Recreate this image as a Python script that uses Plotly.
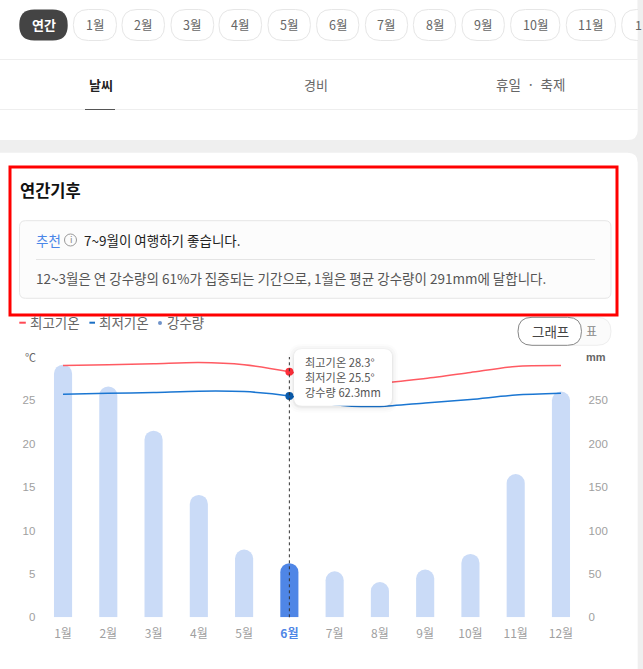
import plotly.graph_objects as go

W, H = 643, 669
KR = "Noto Sans CJK KR"

months = ["1월", "2월", "3월", "4월", "5월", "6월", "7월", "8월", "9월", "10월", "11월", "12월"]
high_temp = [29.0, 29.1, 29.2, 29.35, 29.1, 28.3, 27.2, 27.0, 27.5, 28.2, 28.9, 29.0]
low_temp = [25.7, 25.8, 25.9, 26.05, 26.0, 25.5, 24.5, 24.3, 24.7, 25.1, 25.6, 25.8]
rain = [291, 266, 215, 141, 78, 62.3, 53, 40.6, 55, 73, 165, 260]
selected = "6월"

temp_ticks = [0, 5, 10, 15, 20, 25]
rain_ticks = [0, 50, 100, 150, 200, 250]

pill_labels = ["1월", "2월", "3월", "4월", "5월", "6월", "7월", "8월", "9월", "10월", "11월"]
pill_edges = [(73.4, 116.5), (122, 164.5), (171, 213.7), (219, 261.6), (268, 310.4), (316.6, 358.8),
              (365.4, 407.6), (413.4, 455.6), (462, 504.4), (510.6, 559.8), (566.3, 615.5)]

tooltip_lines = ["최고기온 28.3°", "최저기온 25.5°", "강수량 62.3mm"]


# pixel coords -> paper coords
def px(x):
    return x / W


def py(y):
    return 1 - y / H


def rrect(x0, y0, x1, y1, r):
    pts = [("M", x0 + r, y0), ("L", x1 - r, y0), ("Q", x1, y0, x1, y0 + r), ("L", x1, y1 - r),
           ("Q", x1, y1, x1 - r, y1), ("L", x0 + r, y1), ("Q", x0, y1, x0, y1 - r), ("L", x0, y0 + r),
           ("Q", x0, y0, x0 + r, y0)]
    out = []
    for p in pts:
        nums = p[1:]
        coords = " ".join(f"{px(nums[i]):.5f},{py(nums[i + 1]):.5f}" for i in range(0, len(nums), 2))
        out.append(p[0] + " " + coords)
    return " ".join(out) + " Z"


shapes = []
annotations = []


def box(x0, y0, x1, y1, r, fill, line=None, width=1, layer="below", opacity=1):
    shapes.append(dict(type="path", path=rrect(x0, y0, x1, y1, r), xref="paper", yref="paper",
                       fillcolor=fill, line=dict(color=line or fill, width=width if line else 0),
                       layer=layer, opacity=opacity))


def hline(x0, x1, y, color, width=1, layer="below"):
    shapes.append(dict(type="line", xref="paper", yref="paper", x0=px(x0), x1=px(x1), y0=py(y), y1=py(y),
                       line=dict(color=color, width=width), layer=layer))


def label(x, y, text, size=12, color="#555555", anchor="left", family=KR):
    annotations.append(dict(x=px(x), y=py(y), xref="paper", yref="paper", text=text, showarrow=False,
                            xanchor=anchor, yanchor="middle", align=anchor, borderpad=0, borderwidth=0,
                            font=dict(size=size, color=color, family=family)))


# cards
box(-20, -20, 637.7, 140, 10, "#ffffff")
box(-20, 152.7, 637.7, 720, 10, "#ffffff")

# month pills
box(19.3, 9.5, 67.7, 40.5, 15, "#444444")
label(43.5, 25, "<b>연간</b>", 13, "#ffffff", "center")
for name, (a, b) in zip(pill_labels, pill_edges):
    box(a, 9.5, b, 40.5, 15, "#ffffff", "#e6e6e6")
    label((a + b) / 2, 25, name, 12.5, "#666666", "center")
box(621.7, 9.5, 660, 40.5, 15, "#ffffff", "#e6e6e6")
shapes.append(dict(type="rect", xref="paper", yref="paper", x0=px(637.7), x1=px(643), y0=py(0), y1=py(60),
                   fillcolor="#efefef", line=dict(width=0), layer="below"))
label(634.5, 25, "1", 12.5, "#666666")

# tabs
hline(0, 637.7, 59.5, "#eeeeee")
hline(0, 637.7, 109.5, "#eeeeee")
hline(85, 115, 109.5, "#555555")
label(100.5, 84, "<b>날씨</b>", 13, "#222222", "center")
label(316, 84, "경비", 13, "#666666", "center")
label(530.5, 84, "휴일  ·  축제", 13.5, "#666666", "center")

# summary block
label(20, 190, "<b>연간기후</b>", 16.5, "#111111")
box(19.5, 220.7, 611, 298.3, 6, "#fcfcfc", "#e6e6e6")
label(36, 240, "추천", 13.5, "#4a86e8")
shapes.append(dict(type="circle", xref="paper", yref="paper", x0=px(64.5), x1=px(76.5), y0=py(234), y1=py(246),
                   line=dict(color="#999999", width=1), fillcolor="#fcfcfc", layer="below"))
label(70.5, 240, "i", 9, "#888888", "center")
label(84, 240, "7~9월이 여행하기 좋습니다.", 13.5, "#222222")
hline(36, 595, 259.5, "#e4e4e4")
label(36, 278, "12~3월은 연 강수량의 61%가 집중되는 기간으로, 1월은 평균 강수량이 291mm에 달합니다.", 13.5, "#555555")

# legend row + toggle
hline(19.3, 25.8, 322.7, "#ff4a55", 2)
label(30, 322, "최고기온", 13.5, "#666666")
hline(89.4, 95, 322.7, "#1a6fc4", 2)
label(99, 322, "최저기온", 13.5, "#666666")
shapes.append(dict(type="circle", xref="paper", yref="paper", x0=px(158), x1=px(162), y0=py(321), y1=py(325),
                   line=dict(width=0), fillcolor="#6f93c9", layer="below"))
label(167, 322, "강수량", 13.5, "#666666")
box(518, 317.3, 611, 345.3, 14, "#fbfbfb", "#eeeeee")
box(518, 317.3, 581.5, 345.3, 14, "#ffffff", "#888888")
label(550, 331, "그래프", 13.5, "#444444", "center")
label(591, 331, "표", 12, "#888888", "center")

# axis units
label(30, 357, "℃", 11, "#666666", "center")
label(606, 357, "<b>mm</b>", 11, "#666666", "right", "Liberation Sans")

# red frame
shapes.append(dict(type="rect", xref="paper", yref="paper", x0=px(10), x1=px(617), y0=py(167), y1=py(315),
                   line=dict(color="#ff0000", width=3), fillcolor="rgba(0,0,0,0)", layer="above"))

# crosshair
shapes.append(dict(type="line", xref="x", yref="paper", x0=selected, x1=selected, y0=py(617.3), y1=py(357),
                   line=dict(color="#333333", width=1, dash="dot"), layer="above"))

# tooltip
for grow, op in [(6, 0.012), (4, 0.018), (2, 0.025), (1, 0.03)]:
    box(294 - grow, 349 - grow + 1, 392 + grow, 405.7 + grow + 1, 8 + grow, "#000000", layer="above", opacity=op)
box(294, 349, 392, 405.7, 8, "#ffffff", layer="above")
for txt, yy in zip(tooltip_lines, [362, 377, 392]):
    label(305, yy, txt, 11.2, "#555555")

fig = go.Figure()

bar_colors = ["#4f86e6" if m == selected else "#cadbf7" for m in months]
fig.add_trace(go.Bar(x=months, y=rain, width=0.4, marker=dict(color=bar_colors, cornerradius=9, line=dict(width=0)),
                     yaxis="y", hoverinfo="skip"))
fig.add_trace(go.Scatter(x=months, y=high_temp, mode="lines", yaxis="y2", hoverinfo="skip",
                         line=dict(color="#ff5a62", width=1.5, shape="spline", smoothing=0.8)))
fig.add_trace(go.Scatter(x=months, y=low_temp, mode="lines", yaxis="y2", hoverinfo="skip",
                         line=dict(color="#1a76d2", width=1.5, shape="spline", smoothing=0.8)))

idx = months.index(selected)
fig.add_trace(go.Scatter(x=[selected], y=[high_temp[idx]], mode="markers", yaxis="y2", hoverinfo="skip",
                         marker=dict(color="#ff2f3a", size=8)))
fig.add_trace(go.Scatter(x=[selected], y=[low_temp[idx]], mode="markers", yaxis="y2", hoverinfo="skip",
                         marker=dict(color="#0b5cad", size=8)))

tick_text = [f'<b><span style="color:#4f86e6">{m}</span></b>' if m == selected else m for m in months]

fig.update_layout(
    width=W,
    height=H,
    margin=dict(l=0, r=0, t=0, b=0),
    paper_bgcolor="#efefef",
    plot_bgcolor="rgba(0,0,0,0)",
    showlegend=False,
    shapes=shapes,
    annotations=annotations,
    font=dict(family="Liberation Sans"),
    xaxis=dict(domain=[px(40.4), px(583.6)], range=[-0.5, 11.5], type="category", tickmode="array", automargin=False,
               tickvals=months, ticktext=tick_text, showgrid=False, zeroline=False, showline=False, ticks="",
               tickfont=dict(size=12, color="#a0a0a0", family=KR), ticklabelstandoff=8),
    yaxis=dict(domain=[py(617.3), py(356.9)], range=[0, 300], side="right", tickvals=rain_ticks, automargin=False,
               showgrid=False, zeroline=False, showline=False, ticks="", ticklabelstandoff=4,
               tickfont=dict(size=11.5, color="#a0a0a0")),
    yaxis2=dict(domain=[py(617.3), py(356.9)], range=[0, 30], side="left", overlaying="y", tickvals=temp_ticks,
                automargin=False, showgrid=False, zeroline=False, showline=False, ticks="", ticklabelstandoff=4,
                tickfont=dict(size=11.5, color="#a0a0a0")),
)

fig.write_html("out.html", config=dict(displayModeBar=False),
               post_script="document.body.style.margin='0';document.body.style.overflow='hidden';")
